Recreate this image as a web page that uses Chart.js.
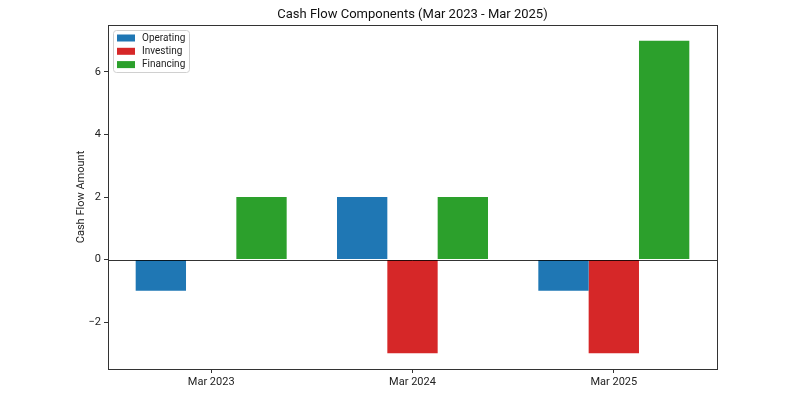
<!DOCTYPE html>
<html>
<head>
<meta charset="utf-8">
<script src="https://cdn.jsdelivr.net/npm/chart.js@4/dist/chart.umd.min.js"></script>
<style>
html,body{margin:0;padding:0;background:#fff;}
#wrap{width:800px;height:400px;}
</style>
</head>
<body>
<div id="wrap"><canvas id="c" width="800" height="400"></canvas></div>
<script>
const categories = ["Mar 2023", "Mar 2024", "Mar 2025"];
const operating = [-1, 2, -1];
const investing = [0, -3, -3];
const financing = [2, 2, 7];
const yTicks = [-2, 0, 2, 4, 6];
const seriesNames = ["Operating", "Investing", "Financing"];
const seriesColors = ["#1f77b4", "#d62728", "#2ca02c"];
const titleText = 'Cash Flow Components (Mar 2023 - Mar 2025)';

const FONT = "Roboto, 'DejaVu Sans', sans-serif";

const toPoints = (arr) => arr.map((v, i) => ({x: i, y: v}));

const framePlugin = {
  id: 'frame',
  afterDatasetsDraw(chart) {
    const {ctx, chartArea: a, scales} = chart;
    const y0 = scales.y.getPixelForValue(0);
    ctx.save();
    ctx.strokeStyle = '#000';
    ctx.lineWidth = 0.8;
    ctx.beginPath();
    ctx.moveTo(a.left, Math.round(y0) + 0.5);
    ctx.lineTo(a.right, Math.round(y0) + 0.5);
    ctx.stroke();
    ctx.strokeStyle = '#333';
    ctx.lineWidth = 1;
    ctx.strokeRect(Math.round(a.left) + 0.5, Math.round(a.top) + 0.5, Math.round(a.right - a.left), Math.round(a.bottom - a.top));
    ctx.restore();
  },
  afterDraw(chart) {
    const {ctx, chartArea: a} = chart;
    ctx.save();
    // title
    ctx.font = "13px " + FONT;
    ctx.fillStyle = '#111';
    ctx.textAlign = 'center';
    ctx.textBaseline = 'middle';
    ctx.fillText(titleText, (a.left + a.right) / 2, 15);
    // legend
    const bx = a.left + 5, by = a.top + 5, bw = 76, bh = 42;
    ctx.fillStyle = 'rgba(255,255,255,0.8)';
    ctx.strokeStyle = '#d0d0d0';
    ctx.lineWidth = 1;
    const r = 3;
    ctx.beginPath();
    ctx.moveTo(bx + r + 0.5, by + 0.5);
    ctx.arcTo(bx + bw + 0.5, by + 0.5, bx + bw + 0.5, by + bh + 0.5, r);
    ctx.arcTo(bx + bw + 0.5, by + bh + 0.5, bx + 0.5, by + bh + 0.5, r);
    ctx.arcTo(bx + 0.5, by + bh + 0.5, bx + 0.5, by + 0.5, r);
    ctx.arcTo(bx + 0.5, by + 0.5, bx + bw + 0.5, by + 0.5, r);
    ctx.closePath();
    ctx.fill();
    ctx.stroke();
    ctx.font = "10px " + FONT;
    ctx.textBaseline = 'middle';
    ctx.textAlign = 'left';
    chart.data.datasets.forEach((ds, i) => {
      const cy = by + 8 + i * 13.3;
      ctx.fillStyle = ds.backgroundColor;
      ctx.fillRect(bx + 4, cy - 3.5, 18, 7);
      ctx.fillStyle = '#222';
      ctx.fillText(ds.label, bx + 29, cy);
    });
    ctx.restore();
  }
};

new Chart(document.getElementById('c'), {
  type: 'bar',
  data: {
    datasets: [
      {label: seriesNames[0], data: toPoints(operating), backgroundColor: seriesColors[0]},
      {label: seriesNames[1], data: toPoints(investing), backgroundColor: seriesColors[1]},
      {label: seriesNames[2], data: toPoints(financing), backgroundColor: seriesColors[2]}
    ]
  },
  options: {
    responsive: false,
    animation: false,
    devicePixelRatio: 1,
    layout: {padding: {left: 0, right: 83, top: 25, bottom: 0}},
    datasets: {bar: {barPercentage: 1.0, categoryPercentage: 0.75, borderWidth: 0}},
    plugins: {
      legend: {display: false},
      tooltip: {enabled: false},
      title: {display: false}
    },
    scales: {
      x: {
        type: 'linear',
        min: -0.5125,
        max: 2.5125,
        offset: false,
        grid: {display: true, offset: false, drawOnChartArea: false, drawTicks: true, tickLength: 4, color: '#333'},
        border: {display: false},
        afterBuildTicks(scale) { scale.ticks = categories.map((c, i) => ({value: i})); },
        ticks: {
          color: '#222', font: {family: FONT, size: 11}, padding: 3, maxRotation: 0,
          callback: (v) => categories[v]
        },
        afterFit(scale) { scale.height = 31; }
      },
      y: {
        min: -3.5,
        max: 7.5,
        grid: {display: true, drawOnChartArea: false, drawTicks: true, tickLength: 4, color: '#333'},
        border: {display: false},
        afterBuildTicks(scale) { scale.ticks = yTicks.map(v => ({value: v})); },
        ticks: {
          color: '#222',
          font: {family: FONT, size: 11},
          padding: 3,
          callback: (v) => String(v).replace('-', '\u2212')
        },
        title: {
          display: true,
          text: 'Cash Flow Amount',
          color: '#222',
          font: {family: FONT, size: 11},
          padding: {top: 75, bottom: 0}
        },
        afterFit(scale) { scale.width = 108; }
      }
    }
  },
  plugins: [framePlugin]
});
</script>
</body>
</html>
